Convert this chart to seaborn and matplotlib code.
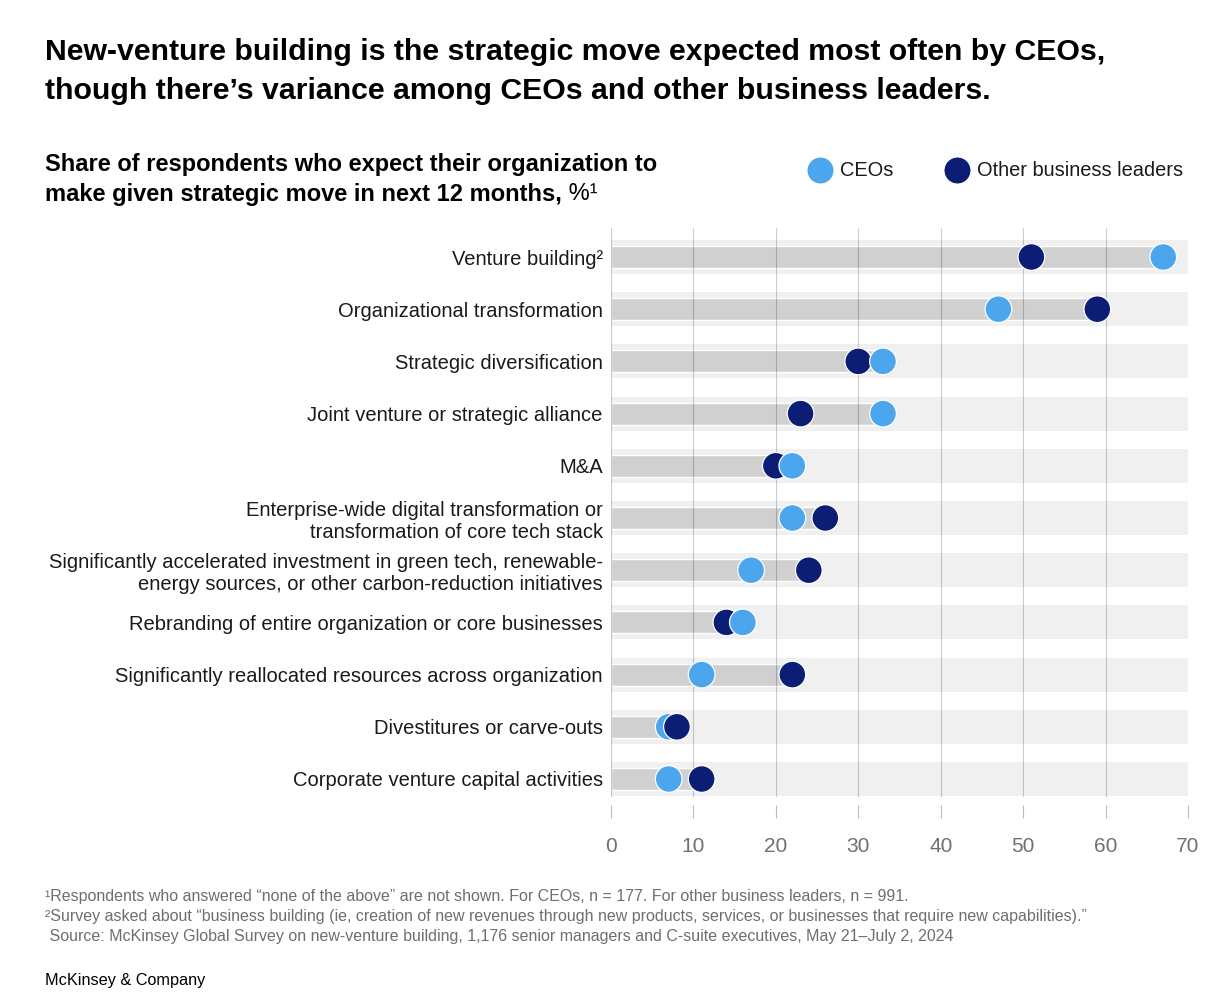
import matplotlib
matplotlib.use("Agg")
import matplotlib.pyplot as plt
import seaborn as sns
import pandas as pd
from matplotlib.lines import Line2D

# ---------------- data ----------------
categories = [
    "Venture building²",
    "Organizational transformation",
    "Strategic diversification",
    "Joint venture or strategic alliance",
    "M&A",
    "Enterprise-wide digital transformation or\ntransformation of core tech stack",
    "Significantly accelerated investment in green tech, renewable-\nenergy sources, or other carbon-reduction initiatives",
    "Rebranding of entire organization or core businesses",
    "Significantly reallocated resources across organization",
    "Divestitures or carve-outs",
    "Corporate venture capital activities",
]
ceos = [67, 47, 33, 33, 22, 22, 17, 16, 11, 7, 7]
others = [51, 59, 30, 23, 20, 26, 24, 14, 22, 8, 11]
groups = ["CEOs", "Other business leaders"]
x_ticks = [0, 10, 20, 30, 40, 50, 60, 70]

title = ("New-venture building is the strategic move expected most often by CEOs,\n"
         "though there’s variance among CEOs and other business leaders.")
subtitle_1 = "Share of respondents who expect their organization to"
subtitle_2 = "make given strategic move in next 12 months,"
subtitle_unit = " %¹"
footnotes = [
    "¹Respondents who answered “none of the above” are not shown. For CEOs, n = 177. For other business leaders, n = 991.",
    "²Survey asked about “business building (ie, creation of new revenues through new products, services, or businesses that require new capabilities).”",
    " Source: McKinsey Global Survey on new-venture building, 1,176 senior managers and C-suite executives, May 21–July 2, 2024",
]
brand = "McKinsey & Company"

# ---------------- styling ----------------
LIGHT = "#4BA6EE"
NAVY = "#0B1D75"
BAR = "#D0D0D0"
BAND = "#F0F0F0"

sns.set_theme(style="white")
plt.rcParams["font.family"] = ["Liberation Sans", "DejaVu Sans"]

cat_type = pd.CategoricalDtype(categories, ordered=True)
df_bar = pd.DataFrame({
    "category": pd.Categorical(categories, dtype=cat_type),
    "value": [max(a, b) for a, b in zip(ceos, others)],
})
df_pts = pd.DataFrame({
    "category": pd.Categorical(categories * 2, dtype=cat_type),
    "group": [groups[0]] * len(categories) + [groups[1]] * len(categories),
    "value": ceos + others,
}).sort_values("value", kind="stable").reset_index(drop=True)

fig = plt.figure(figsize=(12.27, 10), dpi=100)
ax = fig.add_axes([611 / 1227, 1 - 797 / 1000, 577 / 1227, (797 - 228) / 1000])

# background bands
for i in range(len(categories)):
    ax.axhspan(i - 0.325, i + 0.325, color=BAND, zorder=0, lw=0)

sns.barplot(data=df_bar, x="value", y="category", order=categories, color=BAR,
            saturation=1, width=0.42, ax=ax, zorder=1)

sns.scatterplot(data=df_pts, x="value", y="category", hue="group", hue_order=groups,
                palette=[LIGHT, NAVY], s=370, edgecolor="white", linewidth=0.9,
                legend=False, ax=ax, zorder=4)

ax.set_xlim(0, 70)
ax.set_ylim(10 + 18 / 52.2, -29 / 52.2)
ax.set_xticks(x_ticks)
ax.set_xticklabels([str(t) for t in x_ticks])
ax.set_xlabel("")
ax.set_ylabel("")

ax.set_axisbelow(False)
ax.grid(axis="x", color="black", alpha=0.2, lw=0.8, zorder=3)
ax.grid(axis="y", visible=False)
for s in ax.spines.values():
    s.set_visible(False)
ax.spines["bottom"].set_position(("outward", 6))

ax.tick_params(axis="x", length=9.5, width=0.8, color="#BDBDBD", direction="out",
               labelsize=15, labelcolor="#707070", pad=13, bottom=True)
ax.tick_params(axis="y", length=0, labelsize=14.5, labelcolor="#1A1A1A", pad=6)
for lab in ax.get_yticklabels():
    lab.set_linespacing(1.22)

# ---------------- texts ----------------
fig.text(45 / 1227, 1 - 38 / 1000, title, fontsize=21.8, fontweight="bold",
         va="top", ha="left", linespacing=1.52, color="#000000")

t1 = fig.text(45 / 1227, 1 - 153 / 1000, subtitle_1, fontsize=17, fontweight="bold",
              va="top", ha="left", color="#000000")
t2 = fig.text(45 / 1227, 1 - 183 / 1000, subtitle_2, fontsize=17, fontweight="bold",
              va="top", ha="left", color="#000000")
fig.canvas.draw()
bb = t2.get_window_extent()
fig.text(bb.x1 / fig.bbox.width, 1 - 183 / 1000, subtitle_unit, fontsize=17,
         va="top", ha="left", color="#000000")

# legend
handles = [Line2D([0], [0], marker="o", linestyle="", markersize=19.5,
                  markerfacecolor=c, markeredgecolor="white", markeredgewidth=0.8)
           for c in (LIGHT, NAVY)]
fig.legend(handles, groups, loc="center left", bbox_to_anchor=(810 / 1227, 1 - 171 / 1000),
           ncol=2, frameon=False, fontsize=14.4, handlelength=1.0, handletextpad=0.5,
           columnspacing=2.7, borderpad=0, borderaxespad=0, labelcolor="#1A1A1A")

for k, line in enumerate(footnotes):
    fig.text(45 / 1227, 1 - (897 + 19.5 * k) / 1000, line, fontsize=11.5,
             color="#6E6E6E", va="center", ha="left")

fig.text(45 / 1227, 1 - 980 / 1000, brand, fontsize=11.7, color="#000000",
         va="center", ha="left")

fig.savefig("out.png", dpi=100)
